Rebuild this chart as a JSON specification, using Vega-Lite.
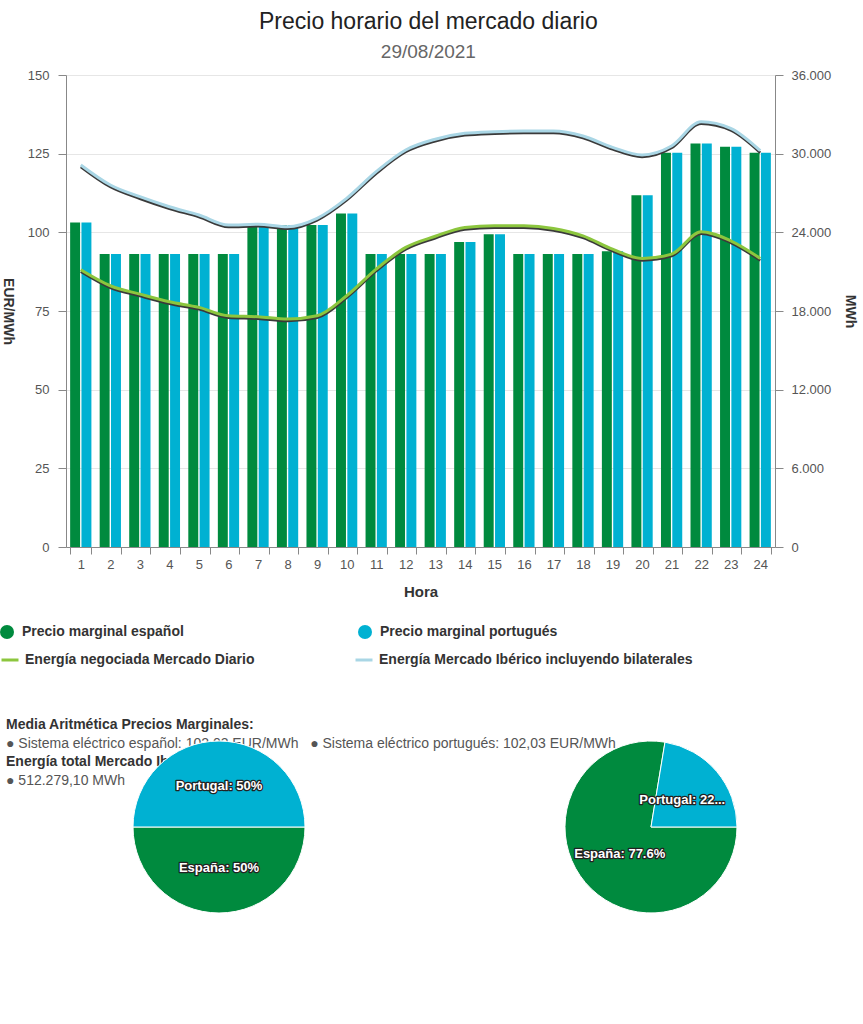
{
  "$schema": "https://vega.github.io/schema/vega-lite/v6.json",
  "background": "white",
  "padding": {"left": 0, "top": 11, "right": 5, "bottom": 0},
  "config": {
    "font": "Liberation Sans",
    "locale": {"number": {"decimal": ",", "thousands": ".", "grouping": [3], "currency": ["", " €"]}},
    "view": {"stroke": null}
  },
  "title": {
    "text": "Precio horario del mercado diario",
    "subtitle": "29/08/2021",
    "anchor": "middle",
    "fontSize": 23,
    "fontWeight": "normal",
    "color": "#222222",
    "subtitleFontSize": 19,
    "subtitleColor": "#666666",
    "subtitlePadding": 9,
    "offset": 7
  },
  "datasets": {
    "pies": [
      {"grafico": "Precios", "pais": "España", "porcentaje": 50, "etiqueta": "España: 50%"},
      {"grafico": "Precios", "pais": "Portugal", "porcentaje": 50, "etiqueta": "Portugal: 50%"},
      {"grafico": "Energía", "pais": "España", "porcentaje": 77.6, "etiqueta": "España: 77.6%"},
      {"grafico": "Energía", "pais": "Portugal", "porcentaje": 22.4, "etiqueta": "Portugal: 22..."}
    ],
    "resumen": [
      {"fila": 1, "tipo": "encabezado", "texto": "Media Aritmética Precios Marginales:"},
      {"fila": 2, "tipo": "dato", "texto": "● Sistema eléctrico español: 102,03 EUR/MWh\u00a0\u00a0\u00a0● Sistema eléctrico portugués: 102,03 EUR/MWh"},
      {"fila": 3, "tipo": "encabezado", "texto": "Energía total Mercado Ibérico:"},
      {"fila": 4, "tipo": "dato", "texto": "● 512.279,10 MWh"}
    ]
  },
  "spacing": 32,
  "resolve": {
    "scale": {"color": "independent", "stroke": "independent", "x": "independent", "y": "independent", "theta": "independent"},
    "legend": {"color": "independent", "stroke": "independent"}
  },
  "vconcat": [
    {
      "width": 709,
      "height": 472,
      "data": {"values": [
        {"hora": 1, "Precio marginal español": 103.1, "Precio marginal portugués": 103.1, "Energía negociada Mercado Diario": 21145, "Energía Mercado Ibérico incluyendo bilaterales": 29135},
        {"hora": 2, "Precio marginal español": 93.1, "Precio marginal portugués": 93.1, "Energía negociada Mercado Diario": 19925, "Energía Mercado Ibérico incluyendo bilaterales": 27610},
        {"hora": 3, "Precio marginal español": 93.1, "Precio marginal portugués": 93.1, "Energía negociada Mercado Diario": 19290, "Energía Mercado Ibérico incluyendo bilaterales": 26717},
        {"hora": 4, "Precio marginal español": 93.1, "Precio marginal portugués": 93.1, "Energía negociada Mercado Diario": 18705, "Energía Mercado Ibérico incluyendo bilaterales": 25955},
        {"hora": 5, "Precio marginal español": 93.1, "Precio marginal portugués": 93.1, "Energía negociada Mercado Diario": 18275, "Energía Mercado Ibérico incluyendo bilaterales": 25322},
        {"hora": 6, "Precio marginal español": 93.1, "Precio marginal portugués": 93.1, "Energía negociada Mercado Diario": 17635, "Energía Mercado Ibérico incluyendo bilaterales": 24560},
        {"hora": 7, "Precio marginal español": 102.3, "Precio marginal portugués": 102.3, "Energía negociada Mercado Diario": 17560, "Energía Mercado Ibérico incluyendo bilaterales": 24612},
        {"hora": 8, "Precio marginal español": 102.3, "Precio marginal portugués": 102.3, "Energía negociada Mercado Diario": 17385, "Energía Mercado Ibérico incluyendo bilaterales": 24430},
        {"hora": 9, "Precio marginal español": 102.3, "Precio marginal portugués": 102.3, "Energía negociada Mercado Diario": 17635, "Energía Mercado Ibérico incluyendo bilaterales": 25070},
        {"hora": 10, "Precio marginal español": 106.0, "Precio marginal portugués": 106.0, "Energía negociada Mercado Diario": 19160, "Energía Mercado Ibérico incluyendo bilaterales": 26595},
        {"hora": 11, "Precio marginal español": 93.1, "Precio marginal portugués": 93.1, "Energía negociada Mercado Diario": 21195, "Energía Mercado Ibérico incluyendo bilaterales": 28625},
        {"hora": 12, "Precio marginal español": 93.1, "Precio marginal portugués": 93.1, "Energía negociada Mercado Diario": 22850, "Energía Mercado Ibérico incluyendo bilaterales": 30280},
        {"hora": 13, "Precio marginal español": 93.1, "Precio marginal portugués": 93.1, "Energía negociada Mercado Diario": 23700, "Energía Mercado Ibérico incluyendo bilaterales": 31100},
        {"hora": 14, "Precio marginal español": 96.9, "Precio marginal portugués": 96.9, "Energía negociada Mercado Diario": 24375, "Energía Mercado Ibérico incluyendo bilaterales": 31550},
        {"hora": 15, "Precio marginal español": 99.4, "Precio marginal portugués": 99.4, "Energía negociada Mercado Diario": 24500, "Energía Mercado Ibérico incluyendo bilaterales": 31675},
        {"hora": 16, "Precio marginal español": 93.1, "Precio marginal portugués": 93.1, "Energía negociada Mercado Diario": 24500, "Energía Mercado Ibérico incluyendo bilaterales": 31730},
        {"hora": 17, "Precio marginal español": 93.1, "Precio marginal portugués": 93.1, "Energía negociada Mercado Diario": 24300, "Energía Mercado Ibérico incluyendo bilaterales": 31730},
        {"hora": 18, "Precio marginal español": 93.1, "Precio marginal portugués": 93.1, "Energía negociada Mercado Diario": 23735, "Energía Mercado Ibérico incluyendo bilaterales": 31350},
        {"hora": 19, "Precio marginal español": 94.0, "Precio marginal portugués": 94.0, "Energía negociada Mercado Diario": 22720, "Energía Mercado Ibérico incluyendo bilaterales": 30485},
        {"hora": 20, "Precio marginal español": 111.8, "Precio marginal portugués": 111.8, "Energía negociada Mercado Diario": 22010, "Energía Mercado Ibérico incluyendo bilaterales": 29900},
        {"hora": 21, "Precio marginal español": 125.3, "Precio marginal portugués": 125.3, "Energía negociada Mercado Diario": 22340, "Energía Mercado Ibérico incluyendo bilaterales": 30585},
        {"hora": 22, "Precio marginal español": 128.2, "Precio marginal portugués": 128.2, "Energía negociada Mercado Diario": 24040, "Energía Mercado Ibérico incluyendo bilaterales": 32440},
        {"hora": 23, "Precio marginal español": 127.2, "Precio marginal portugués": 127.2, "Energía negociada Mercado Diario": 23355, "Energía Mercado Ibérico incluyendo bilaterales": 31935},
        {"hora": 24, "Precio marginal español": 125.3, "Precio marginal portugués": 125.3, "Energía negociada Mercado Diario": 22010, "Energía Mercado Ibérico incluyendo bilaterales": 30225}
      ]},
      "resolve": {"scale": {"y": "independent"}},
      "encoding": {
        "x": {
          "field": "hora",
          "type": "ordinal",
          "title": "Hora",
          "scale": {"paddingInner": 0.28, "paddingOuter": 0.14},
          "axis": {
            "labelAngle": 0,
            "tickBand": "extent",
            "labelFontSize": 13,
            "labelColor": "#555555",
            "titleFontSize": 15,
            "titleFontWeight": "bold",
            "titleColor": "#333333",
            "tickSize": 7,
            "tickColor": "#888888",
            "domainColor": "#888888",
            "labelPadding": 4,
            "titlePadding": 13,
            "grid": false
          }
        }
      },
      "layer": [
        {
          "transform": [{"fold": ["Precio marginal español", "Precio marginal portugués"], "as": ["serie", "precio"]}],
          "mark": {"type": "bar"},
          "encoding": {
            "xOffset": {"field": "serie", "type": "nominal", "scale": {"domain": ["Precio marginal español", "Precio marginal portugués"], "paddingInner": 0.12}},
            "y": {
              "field": "precio",
              "type": "quantitative",
              "scale": {"domain": [0, 150]},
              "axis": {
                "title": "EUR/MWh",
                "titleAngle": 90,
                "titleBaseline": "top",
                "titleFontSize": 14,
                "titleFontWeight": "bold",
                "titleColor": "#333333",
                "titlePadding": 13,
                "values": [0, 25, 50, 75, 100, 125, 150],
                "labelFontSize": 13,
                "labelColor": "#555555",
                "tickSize": 8,
                "labelPadding": 9,
                "tickColor": "#888888",
                "domainColor": "#888888",
                "gridColor": "#e6e6e6"
              }
            },
            "color": {
              "field": "serie",
              "type": "nominal",
              "scale": {"domain": ["Precio marginal español", "Precio marginal portugués"], "range": ["#008a3e", "#00b1d2"]},
              "legend": {
                "title": null,
                "orient": "none",
                "legendX": -66,
                "legendY": 550,
                "direction": "horizontal",
                "columns": 2,
                "columnPadding": 174,
                "symbolType": "circle",
                "symbolSize": 196,
                "symbolStrokeWidth": 0,
                "labelFontSize": 14,
                "labelFontWeight": "bold",
                "labelColor": "#333333",
                "labelOffset": 8,
                "labelLimit": 400
              }
            }
          }
        },
        {
          "transform": [{"fold": ["Energía negociada Mercado Diario", "Energía Mercado Ibérico incluyendo bilaterales"], "as": ["serie_energia", "energia"]}],
          "encoding": {
            "y": {
              "field": "energia",
              "type": "quantitative",
              "scale": {"domain": [0, 36000]},
              "axis": {
                "orient": "right",
                "title": "MWh",
                "titleFontSize": 14,
                "titleFontWeight": "bold",
                "titleColor": "#333333",
                "titlePadding": 12,
                "values": [0, 6000, 12000, 18000, 24000, 30000, 36000],
                "format": ",d",
                "labelFontSize": 13,
                "labelColor": "#555555",
                "tickSize": 8,
                "labelPadding": 8,
                "tickColor": "#888888",
                "domainColor": "#888888",
                "grid": false
              }
            }
          },
          "layer": [
            {
              "mark": {"type": "line", "interpolate": "monotone", "strokeWidth": 2.5, "color": "#3a3a3a", "yOffset": 2},
              "encoding": {"detail": {"field": "serie_energia", "type": "nominal"}}
            },
            {
              "mark": {"type": "line", "interpolate": "monotone", "strokeWidth": 3},
              "encoding": {
                "stroke": {
                  "field": "serie_energia",
                  "type": "nominal",
                  "scale": {"domain": ["Energía negociada Mercado Diario", "Energía Mercado Ibérico incluyendo bilaterales"], "range": ["#8cc63e", "#a9d6e5"]},
                  "legend": {
                    "title": null,
                    "orient": "none",
                    "legendX": -66,
                    "legendY": 575,
                    "direction": "horizontal",
                    "columns": 2,
                    "columnPadding": 94,
                    "symbolType": "stroke",
                    "symbolSize": 289,
                    "symbolStrokeWidth": 3,
                    "labelFontSize": 14,
                    "labelFontWeight": "bold",
                    "labelColor": "#333333",
                    "labelOffset": 5,
                    "labelLimit": 400
                  }
                }
              }
            }
          ]
        }
      ]
    },
    {
      "width": 738,
      "height": 256,
      "layer": [
        {
          "data": {"name": "resumen"},
          "transform": [{"filter": "datum.tipo === 'encabezado'"}],
          "mark": {"type": "text", "align": "left", "baseline": "middle", "fontSize": 14, "fontWeight": "bold", "color": "#333333"},
          "encoding": {
            "x": {"value": -60},
            "y": {"field": "fila", "type": "ordinal", "scale": {"type": "point", "domain": [1, 2, 3, 4], "range": [26, 82], "padding": 0}, "axis": null},
            "text": {"field": "texto"}
          }
        },
        {
          "data": {"name": "resumen"},
          "transform": [{"filter": "datum.tipo === 'dato'"}],
          "mark": {"type": "text", "align": "left", "baseline": "middle", "fontSize": 14, "fontWeight": "normal", "color": "#555555"},
          "encoding": {
            "x": {"value": -60},
            "y": {"field": "fila", "type": "ordinal", "scale": {"type": "point", "domain": [1, 2, 3, 4], "range": [26, 82], "padding": 0}, "axis": null},
            "text": {"field": "texto"}
          }
        },
        {
          "data": {"name": "pies"},
          "transform": [{"filter": "datum.grafico === 'Precios'"}],
          "encoding": {
            "x": {"field": "grafico", "type": "nominal", "scale": {"type": "point", "domain": ["Precios", "Energía"], "padding": 0.3542}, "axis": null},
            "theta": {"field": "porcentaje", "type": "quantitative", "stack": true, "scale": {"domain": [0, 100], "range": [1.5707963, 7.8539816]}},
            "order": {"field": "pais", "type": "ordinal", "sort": "ascending"},
            "color": {"field": "pais", "type": "nominal", "scale": {"domain": ["España", "Portugal"], "range": ["#008a3e", "#00b1d2"]}, "legend": null}
          },
          "layer": [
            {"mark": {"type": "arc", "outerRadius": 86, "stroke": "white", "strokeWidth": 1}},
            {"mark": {"type": "text", "radius": 41, "fontSize": 13, "fontWeight": "bold", "stroke": "#222222", "strokeWidth": 2.5, "strokeJoin": "round"}, "encoding": {"text": {"field": "etiqueta"}, "color": {"value": "#222222"}}},
            {"mark": {"type": "text", "radius": 41, "fontSize": 13, "fontWeight": "bold"}, "encoding": {"text": {"field": "etiqueta"}, "color": {"value": "white"}}}
          ]
        },
        {
          "data": {"name": "pies"},
          "transform": [{"filter": "datum.grafico === 'Energía'"}],
          "encoding": {
            "x": {"field": "grafico", "type": "nominal", "scale": {"type": "point", "domain": ["Precios", "Energía"], "padding": 0.3542}, "axis": null},
            "theta": {"field": "porcentaje", "type": "quantitative", "stack": true, "scale": {"domain": [0, 100], "range": [1.5707963, 7.8539816]}},
            "order": {"field": "pais", "type": "ordinal", "sort": "ascending"},
            "color": {"field": "pais", "type": "nominal", "scale": {"domain": ["España", "Portugal"], "range": ["#008a3e", "#00b1d2"]}, "legend": null}
          },
          "layer": [
            {"mark": {"type": "arc", "outerRadius": 86, "stroke": "white", "strokeWidth": 1}},
            {"mark": {"type": "text", "radius": 41, "fontSize": 13, "fontWeight": "bold", "stroke": "#222222", "strokeWidth": 2.5, "strokeJoin": "round"}, "encoding": {"text": {"field": "etiqueta"}, "color": {"value": "#222222"}}},
            {"mark": {"type": "text", "radius": 41, "fontSize": 13, "fontWeight": "bold"}, "encoding": {"text": {"field": "etiqueta"}, "color": {"value": "white"}}}
          ]
        }
      ]
    }
  ]
}
